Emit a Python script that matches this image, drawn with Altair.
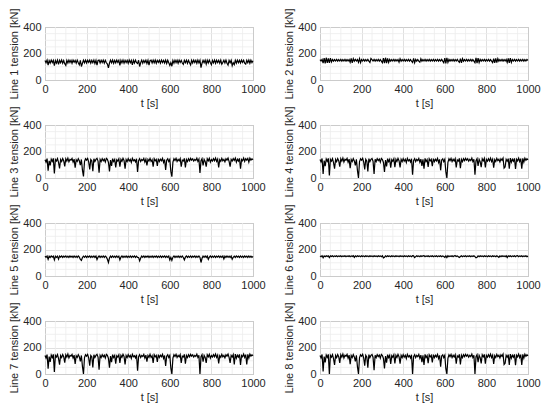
import altair as alt
import pandas as pd

# time axis [s], one sample every 5 s
t = list(range(0, 1001, 5))

line1 = [148,130,150,112,146,128,150,132,148,108,
         146,127,150,118,148,130,150,126,147,122,
         110,148,128,150,132,149,126,150,134,148,
         127,150,131,115,148,102,126,149,130,150,
         128,149,133,150,127,148,131,150,124,148,
         112,147,150,128,149,132,150,127,148,130,
         120,92,128,149,130,150,126,148,129,150,
         133,149,110,148,129,150,127,149,131,148,
         126,150,130,148,114,149,128,150,131,125,
         149,102,130,150,127,148,132,150,125,149,
         112,146,150,128,149,130,150,126,148,133,
         149,127,150,132,148,128,150,125,149,130,
         110,131,104,148,127,150,131,149,126,150,
         133,148,128,118,149,131,150,126,148,130,
         114,149,128,150,132,148,126,150,129,149,
         94,127,148,131,150,120,149,128,150,132,
         116,148,129,150,126,149,131,148,127,150,
         120,133,149,128,150,126,112,148,130,149,
         108,131,116,149,127,150,131,148,128,150,
         133,149,127,120,148,130,150,126,149,131,
         146]

line2 = [154,143,155,128,166,126,168,130,163,129,
         165,136,155,142,154,143,155,142,154,143,
         155,142,154,143,155,142,154,143,155,134,
         163,130,161,142,155,143,154,133,162,131,
         154,143,155,142,154,143,155,142,132,162,
         154,143,155,142,154,143,155,142,154,143,
         131,165,127,168,128,163,132,155,142,154,
         143,155,142,154,143,155,135,161,142,154,
         143,155,142,154,143,155,142,154,143,133,
         163,130,155,142,154,143,135,160,142,154,
         143,155,142,154,143,155,142,154,143,155,
         142,154,143,155,142,154,143,155,142,130,
         166,126,167,133,155,142,154,143,155,142,
         154,143,155,142,133,162,129,161,142,154,
         143,155,142,154,143,155,142,154,143,131,
         167,127,165,132,155,142,154,143,155,142,
         154,143,155,142,154,143,132,162,130,164,
         131,161,142,154,143,155,142,154,143,155,
         133,163,129,165,132,154,143,155,142,154,
         143,155,142,154,143,155,142,154,143,155,
         148]

line3 = [138,120,146,55,130,95,142,125,148,35,
         140,128,146,118,72,140,125,147,130,88,
         145,128,150,122,140,135,148,120,142,78,
         138,125,146,130,98,140,60,12,125,145,
         135,148,122,65,140,130,52,145,125,140,
         148,128,40,140,125,146,130,142,120,148,
         140,118,50,135,92,146,125,140,80,138,
         128,145,85,140,126,148,132,70,140,125,
         146,128,140,118,148,130,138,122,145,45,
         130,146,125,140,132,148,120,142,95,140,
         128,148,125,138,85,145,130,140,92,146,
         125,142,130,148,118,140,60,135,145,125,
         140,50,10,120,145,132,148,125,140,130,
         146,85,135,128,148,80,140,125,145,130,
         148,135,145,128,140,132,150,125,142,38,
         130,146,95,140,125,85,145,130,148,120,
         140,128,146,130,150,125,142,80,138,126,
         148,130,140,122,145,135,150,125,85,140,
         128,146,132,150,120,142,128,148,70,140,
         130,150,125,146,135,148,120,150,135,145,
         138]

line4 = [140,122,147,30,132,90,143,126,148,20,
         141,127,146,116,70,140,124,147,131,85,
         145,127,150,121,141,134,148,119,142,75,
         139,124,146,129,96,141,58,0,124,145,
         134,148,121,65,141,129,50,146,124,141,
         147,127,30,141,124,146,131,143,119,148,
         139,117,45,136,88,146,124,141,78,139,
         127,145,82,141,125,148,131,80,141,124,
         146,127,141,117,148,129,139,121,145,25,
         131,146,124,141,131,148,119,142,92,141,
         70,148,124,139,84,145,129,141,90,146,
         124,142,129,148,117,141,58,136,145,124,
         141,48,0,119,145,131,148,124,141,129,
         146,80,136,127,148,75,141,124,145,131,
         148,134,145,127,141,131,150,124,142,25,
         131,146,92,141,124,82,145,129,148,80,
         141,127,146,129,150,124,142,78,139,125,
         148,131,141,121,145,134,150,75,84,141,
         127,146,70,150,119,142,127,148,68,141,
         129,150,124,146,70,148,119,150,134,145,
         137]

line5 = [150,141,151,126,149,140,151,142,150,122,
         149,141,150,127,150,142,151,140,150,143,
         151,141,150,140,151,142,150,140,151,141,
         150,140,151,142,125,118,140,150,141,151,
         140,150,142,151,140,150,141,151,140,150,
         124,142,151,140,150,141,151,140,150,142,
         126,102,136,150,140,151,141,150,140,151,
         141,150,122,142,151,140,150,141,151,140,
         150,141,151,140,150,142,151,140,150,141,
         140,114,136,150,141,151,140,150,142,151,
         140,150,141,151,140,150,142,151,140,150,
         141,151,140,150,142,151,140,150,141,151,
         122,140,118,142,151,140,150,141,151,140,
         150,141,151,140,122,142,151,140,150,141,
         151,140,150,142,151,140,150,141,151,140,
         102,134,150,141,151,140,150,126,142,151,
         140,150,141,151,140,150,142,151,140,150,
         141,151,128,150,140,151,141,150,140,151,
         126,141,150,140,151,142,150,140,151,141,
         150,140,151,142,150,140,151,141,150,140,
         148]

line6 = [152,146,153,138,152,146,153,147,152,139,
         152,147,153,146,152,147,153,146,152,147,
         153,146,152,147,153,146,152,147,153,146,
         152,147,153,140,152,146,153,147,152,146,
         153,147,152,146,153,147,152,146,153,147,
         152,146,153,147,152,146,153,147,152,146,
         153,137,141,152,146,153,147,152,146,153,
         147,152,146,153,147,152,146,153,147,152,
         146,153,147,152,146,153,147,152,146,153,
         152,139,146,153,147,152,146,153,147,152,
         153,146,152,147,153,146,152,147,153,146,
         152,147,153,146,152,147,153,146,152,147,
         141,152,139,153,146,152,147,153,146,152,
         153,147,152,146,140,147,153,146,152,147,
         153,146,152,147,153,146,152,147,153,146,
         137,141,152,146,153,147,152,146,153,147,
         152,146,153,147,152,146,153,147,152,146,
         153,147,141,152,146,153,147,152,146,153,
         139,152,147,153,146,152,147,153,146,152,
         153,146,152,147,153,146,152,147,153,146,
         150]

line7 = [139,121,146,40,131,92,142,124,148,15,
         140,128,146,117,70,140,125,147,130,86,
         145,128,150,121,140,135,148,120,142,76,
         138,125,146,130,96,140,58,0,125,145,
         135,148,122,62,140,130,50,145,125,140,
         148,128,32,140,125,146,130,142,120,148,
         140,118,48,135,90,146,125,140,78,138,
         128,145,84,140,126,148,132,72,140,125,
         146,128,140,118,148,130,138,122,145,25,
         130,146,125,140,132,148,120,142,94,140,
         126,148,125,138,84,145,130,140,92,146,
         125,142,130,148,118,140,60,135,145,125,
         140,45,0,120,145,132,148,125,140,130,
         146,84,135,128,148,78,140,125,145,130,
         148,135,145,128,140,132,150,125,142,0,
         130,146,94,140,125,84,145,130,148,120,
         140,128,146,130,150,125,142,80,138,126,
         148,130,140,122,145,135,150,125,84,140,
         128,146,72,150,120,142,128,148,68,140,
         130,150,125,146,72,148,120,150,135,145,
         138]

line8 = [140,122,147,20,132,88,143,126,148,0,
         141,127,146,116,68,140,124,147,131,84,
         145,127,150,121,141,134,148,119,142,74,
         139,124,146,129,95,141,56,0,124,145,
         134,148,121,62,141,129,48,146,124,141,
         147,127,28,141,124,146,131,143,119,148,
         139,117,42,136,86,146,124,141,76,139,
         127,145,80,141,125,148,131,78,141,124,
         146,127,141,117,148,129,139,121,145,0,
         131,146,124,141,131,148,119,142,90,141,
         68,148,124,139,82,145,129,141,88,146,
         124,142,129,148,117,141,56,136,145,124,
         141,40,0,119,145,131,148,124,141,129,
         146,78,136,127,148,72,141,124,145,131,
         148,134,145,127,141,131,150,124,142,0,
         131,146,90,141,124,80,145,129,148,78,
         141,127,146,129,150,124,142,76,139,125,
         148,131,141,121,145,134,150,72,82,141,
         127,146,68,150,119,142,127,148,66,141,
         129,150,124,146,68,148,119,150,134,145,
         137]

series = [line1, line2, line3, line4, line5, line6, line7, line8]
titles = ["Line 1 tension [kN]", "Line 2 tension [kN]", "Line 3 tension [kN]",
          "Line 4 tension [kN]", "Line 5 tension [kN]", "Line 6 tension [kN]",
          "Line 7 tension [kN]", "Line 8 tension [kN]"]
x_ticks = [0, 200, 400, 600, 800, 1000]
y_ticks = [0, 200, 400]
x_minor = [50, 100, 150, 250, 300, 350, 450, 500, 550, 650, 700, 750, 850, 900, 950]
y_minor = [50, 100, 150, 250, 300, 350]

FONT = "Liberation Sans"
TXT = "#262626"


def panel(i):
    df = pd.DataFrame({"t": t, "v": series[i]})
    xenc = alt.X("t:Q", scale=alt.Scale(domain=[0, 1000], nice=False),
                 axis=alt.Axis(values=x_ticks, title="t [s]", labelFlush=False,
                               format="d", labelPadding=3, titlePadding=3))
    yenc = alt.Y("v:Q", scale=alt.Scale(domain=[0, 400], nice=False),
                 axis=alt.Axis(values=y_ticks, title=titles[i], labelPadding=4,
                               format="d", titlePadding=3))
    vgrid = alt.Chart(pd.DataFrame({"t": x_minor})).mark_rule(
        color="#ececec", strokeWidth=0.8).encode(x=xenc)
    hgrid = alt.Chart(pd.DataFrame({"v": y_minor})).mark_rule(
        color="#ececec", strokeWidth=0.8).encode(y=yenc)
    ln = alt.Chart(df).mark_line(color="black", strokeWidth=1.2).encode(x=xenc, y=yenc)
    return alt.layer(vgrid, hgrid, ln).properties(width=208, height=53)


chart = alt.concat(*[panel(i) for i in range(8)], columns=2,
                   spacing={"row": 45, "column": 67}, bounds="flush").properties(
    padding={"left": 0, "top": -1, "right": 0, "bottom": 0}
).configure_view(stroke="#9a9a9a", strokeWidth=1).configure_axis(
    domain=False, ticks=False, grid=True, gridColor="#d8d8d8", gridWidth=0.8,
    labelFont=FONT, labelFontSize=11, labelColor=TXT,
    titleFont=FONT, titleFontSize=11, titleColor=TXT, titleFontWeight="normal"
)

chart.save("out.html", embed_options={"renderer": "svg", "actions": False})
